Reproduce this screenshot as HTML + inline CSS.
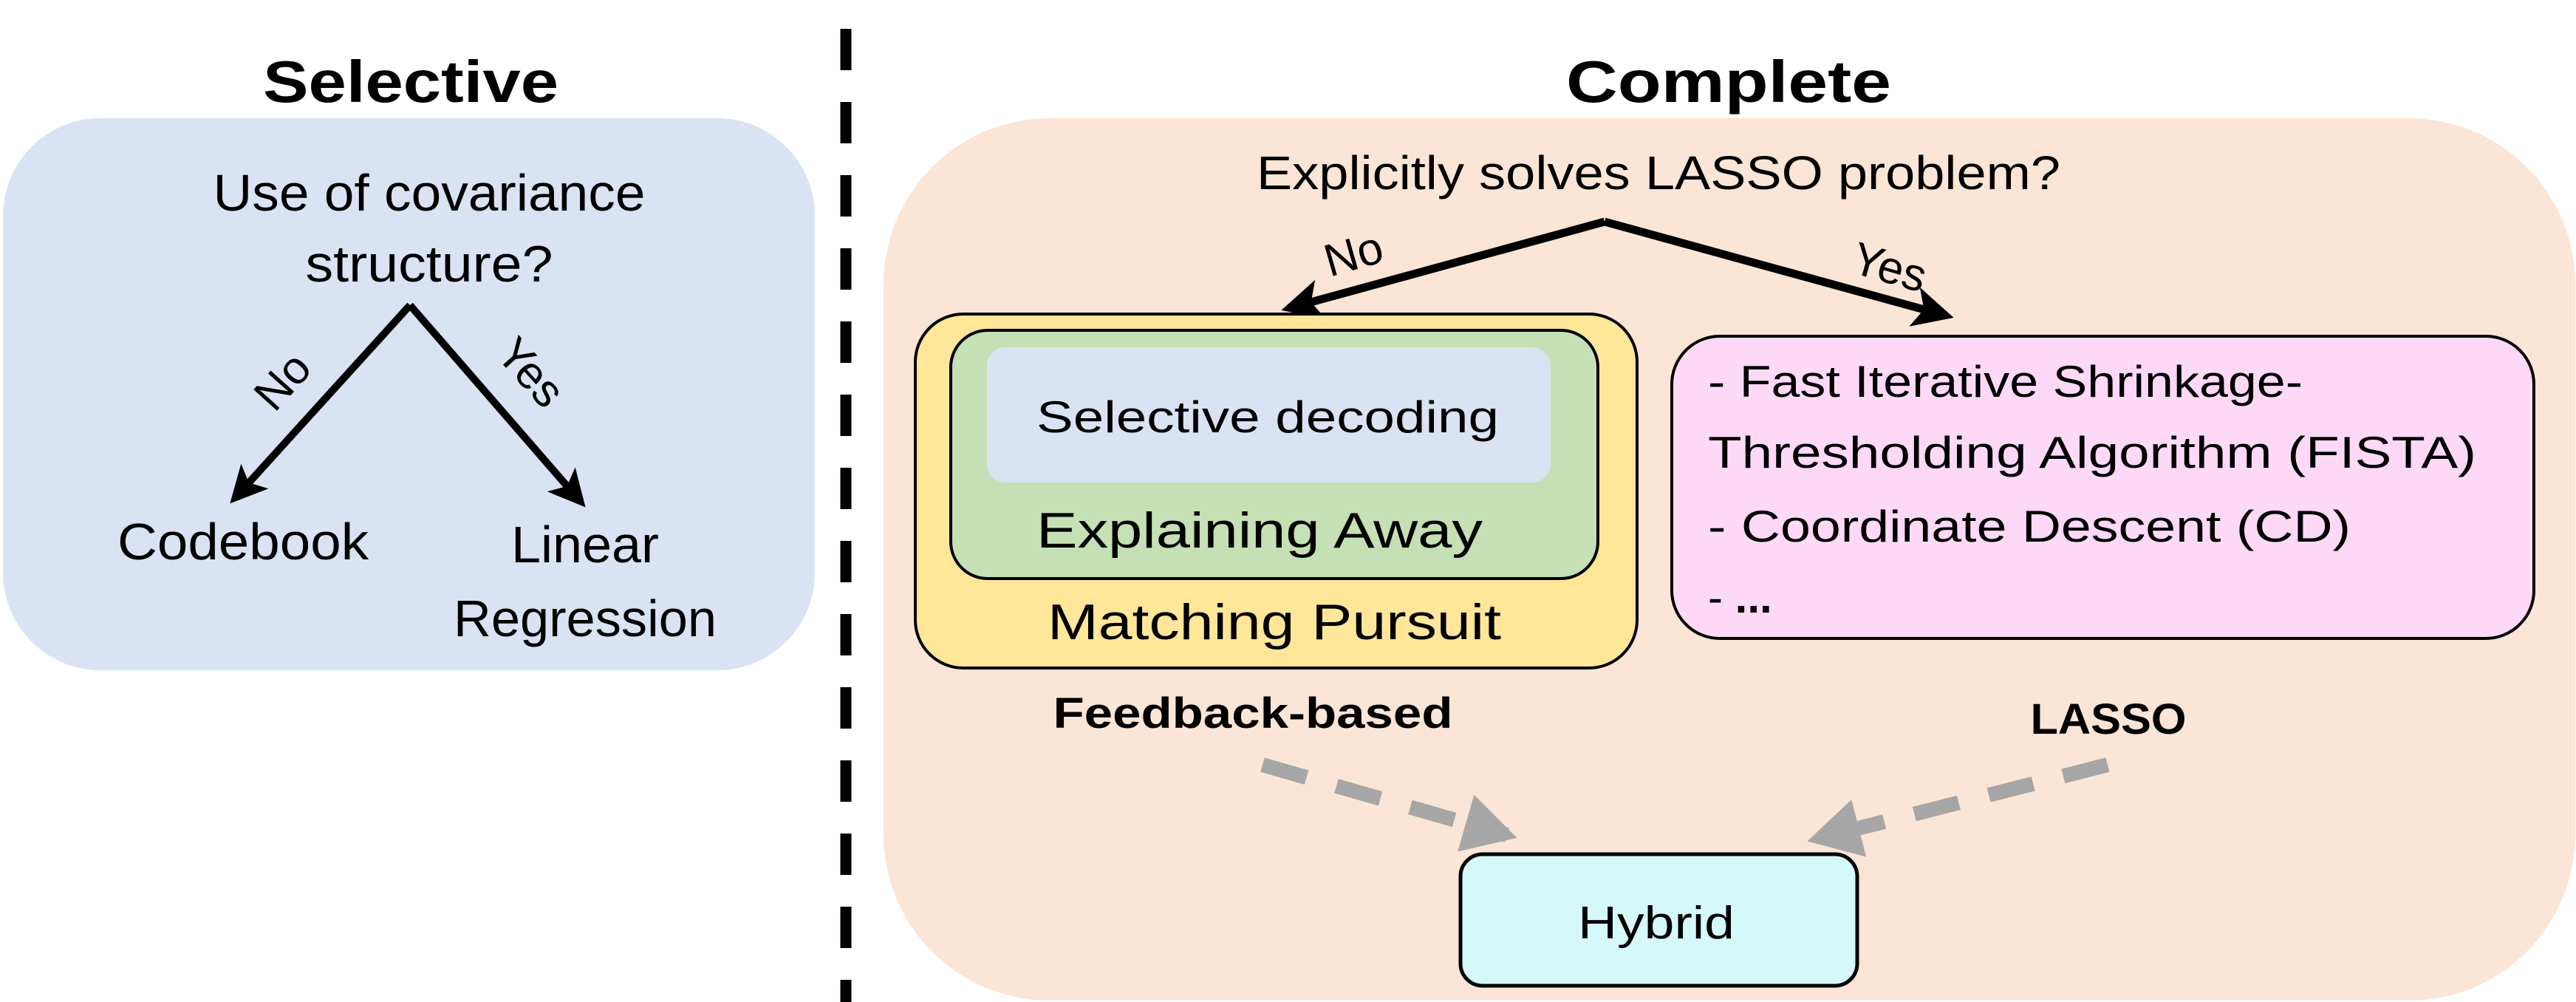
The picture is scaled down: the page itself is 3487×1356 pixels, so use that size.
<!DOCTYPE html>
<html><head><meta charset="utf-8"><style>html,body{margin:0;padding:0;background:#fff}svg{display:block}</style></head>
<body>
<svg width="3487" height="1356" viewBox="0 0 3487 1356" xmlns="http://www.w3.org/2000/svg" font-family="Liberation Sans, sans-serif">
<defs>
<marker id="ab" markerWidth="5" markerHeight="5" refX="4" refY="2.5" orient="auto" markerUnits="strokeWidth"><path d="M0,0 L5,2.5 L0,5 L1.2,2.5 Z" fill="#000"/></marker>
<marker id="ag" markerWidth="3.6" markerHeight="4" refX="2.9" refY="2" orient="auto" markerUnits="strokeWidth"><path d="M0,0 L3.6,2 L0,4 Z" fill="#a6a6a6"/></marker>
</defs>
<rect width="3487" height="1356" fill="#fff"/>
<!-- Selective -->
<text x="556" y="138" font-size="80" font-weight="bold" text-anchor="middle" textLength="400" lengthAdjust="spacingAndGlyphs">Selective</text>
<rect x="4" y="160" width="1099" height="747" rx="132" fill="#dae3f3"/>
<text x="581" y="285" font-size="70" text-anchor="middle" textLength="585" lengthAdjust="spacingAndGlyphs">Use of covariance</text>
<text x="581" y="381" font-size="70" text-anchor="middle" textLength="335" lengthAdjust="spacingAndGlyphs">structure?</text>
<path d="M555,413 L318,674" stroke="#000" stroke-width="10" fill="none" marker-end="url(#ab)"/>
<path d="M555,413 L786,679" stroke="#000" stroke-width="10" fill="none" marker-end="url(#ab)"/>
<text x="0" y="0" font-size="62" text-anchor="middle" transform="translate(398,530) rotate(-48)">No</text>
<text x="0" y="0" font-size="62" text-anchor="middle" transform="translate(703,518) rotate(48)">Yes</text>
<text x="329" y="757" font-size="70" text-anchor="middle" textLength="340" lengthAdjust="spacingAndGlyphs">Codebook</text>
<text x="792" y="761" font-size="70" text-anchor="middle" textLength="200" lengthAdjust="spacingAndGlyphs">Linear</text>
<text x="792" y="861" font-size="70" text-anchor="middle" textLength="356" lengthAdjust="spacingAndGlyphs">Regression</text>
<!-- divider -->
<line x1="1145" y1="39" x2="1145" y2="1356" stroke="#000" stroke-width="15" stroke-dasharray="56 43"/>
<!-- Complete -->
<rect x="1196" y="160" width="2290" height="1194" rx="225" fill="#fbe5d6"/>
<text x="2340" y="138" font-size="80" font-weight="bold" text-anchor="middle" textLength="440" lengthAdjust="spacingAndGlyphs">Complete</text>
<text x="2245" y="256" font-size="64" text-anchor="middle" textLength="1088" lengthAdjust="spacingAndGlyphs">Explicitly solves LASSO problem?</text>
<path d="M2172,300 L1745,417" stroke="#000" stroke-width="11" fill="none" marker-end="url(#ab)"/>
<path d="M2172,300 L2634,427" stroke="#000" stroke-width="11" fill="none" marker-end="url(#ab)"/>
<text x="0" y="0" font-size="62" text-anchor="middle" transform="translate(1838,364) rotate(-16)">No</text>
<text x="0" y="0" font-size="62" text-anchor="middle" transform="translate(2552,382) rotate(16)">Yes</text>
<rect x="1239" y="425" width="977" height="479" rx="65" fill="#ffe699" stroke="#000" stroke-width="4"/>
<rect x="1287" y="447" width="876" height="336" rx="50" fill="#c5e0b4" stroke="#000" stroke-width="4"/>
<rect x="1336" y="470" width="763" height="183" rx="25" fill="#dae3f3"/>
<text x="1716" y="585" font-size="60" text-anchor="middle" textLength="626" lengthAdjust="spacingAndGlyphs">Selective decoding</text>
<text x="1705" y="741" font-size="68" text-anchor="middle" textLength="604" lengthAdjust="spacingAndGlyphs">Explaining Away</text>
<text x="1725" y="865" font-size="68" text-anchor="middle" textLength="614" lengthAdjust="spacingAndGlyphs">Matching Pursuit</text>
<rect x="2263" y="455" width="1167" height="409" rx="65" fill="#fdd9f7" stroke="#000" stroke-width="4"/>
<text x="2312" y="537" font-size="60" textLength="805" lengthAdjust="spacingAndGlyphs">- Fast Iterative Shrinkage-</text>
<text x="2312" y="633" font-size="60" textLength="1040" lengthAdjust="spacingAndGlyphs">Thresholding Algorithm (FISTA)</text>
<text x="2312" y="733" font-size="60" textLength="870" lengthAdjust="spacingAndGlyphs">- Coordinate Descent (CD)</text>
<text x="2312" y="829" font-size="60">- <tspan font-weight="bold">...</tspan></text>
<text x="1696" y="985" font-size="58" font-weight="bold" text-anchor="middle" textLength="541" lengthAdjust="spacingAndGlyphs">Feedback-based</text>
<text x="2854" y="993" font-size="58" font-weight="bold" text-anchor="middle" textLength="211" lengthAdjust="spacingAndGlyphs">LASSO</text>
<path d="M1709,1035 L2040,1130" stroke="#a6a6a6" stroke-width="20" fill="none" stroke-dasharray="62 42" marker-end="url(#ag)"/>
<path d="M2853,1035 L2460,1135" stroke="#a6a6a6" stroke-width="20" fill="none" stroke-dasharray="62 42" marker-end="url(#ag)"/>
<rect x="1977" y="1156" width="537" height="178" rx="30" fill="#d5f8f8" stroke="#000" stroke-width="5"/>
<text x="2242" y="1270" font-size="62" text-anchor="middle" textLength="212" lengthAdjust="spacingAndGlyphs">Hybrid</text>
</svg>
</body></html>
